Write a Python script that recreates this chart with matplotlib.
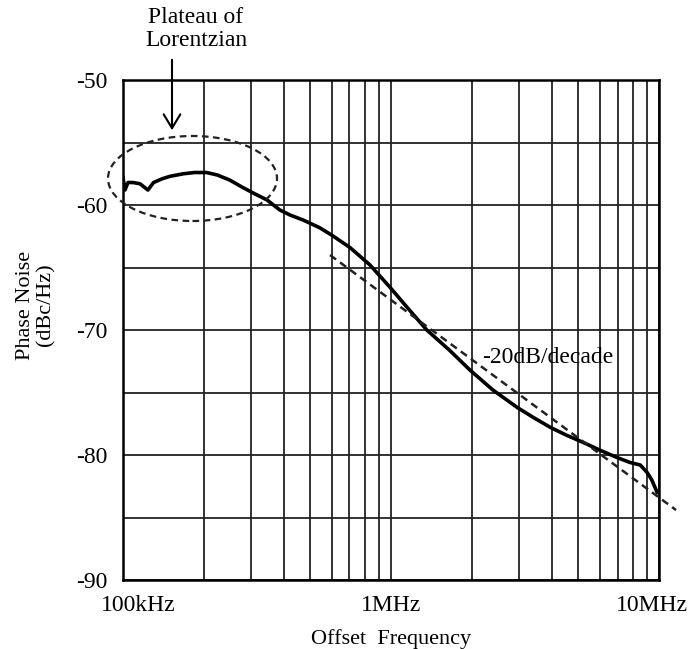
import matplotlib
matplotlib.use("Agg")
import matplotlib.pyplot as plt
import matplotlib.transforms as mtrans
from matplotlib.patches import Ellipse, FancyArrowPatch
from matplotlib.ticker import FixedLocator, LogLocator, NullFormatter

plt.rcParams["font.family"] = ["Liberation Serif", "DejaVu Serif"]
plt.rcParams["axes.unicode_minus"] = False

freq_hz = [1.0e5, 1.017e5, 1.044e5, 1.09e5, 1.157e5, 1.239e5, 1.30e5, 1.40e5, 1.50e5,
           1.68e5, 1.85e5, 2.05e5, 2.25e5, 2.50e5, 2.80e5, 3.10e5, 3.45e5, 3.85e5,
           4.20e5, 4.70e5, 5.40e5, 6.00e5, 7.03e5, 8.35e5, 9.93e5, 1.15e6, 1.36e6,
           1.65e6, 1.97e6, 2.40e6, 2.96e6, 3.40e6, 3.94e6, 4.50e6, 5.22e6, 6.00e6,
           6.97e6, 7.80e6, 8.51e6, 9.03e6, 9.40e6, 9.84e6]
pn_dbc = [-57.8, -58.8, -58.2, -58.2, -58.3, -58.8, -58.2, -57.9, -57.7,
          -57.5, -57.4, -57.4, -57.6, -58.0, -58.6, -59.1, -59.6, -60.4,
          -60.8, -61.2, -61.8, -62.4, -63.4, -64.8, -66.6, -68.2, -70.0,
          -71.6, -73.2, -74.8, -76.2, -77.0, -77.8, -78.4, -79.0, -79.6,
          -80.2, -80.6, -80.8, -81.4, -82.0, -83.0]

# -20 dB/decade guide
guide_hz = [5.92e5, 1.157e7]
guide_db = [-64.0, -84.4]

fig = plt.figure(figsize=(6.89, 6.49), dpi=100)
ax = fig.add_axes([0.1785, 0.1063, 0.7780, 0.7704])

ax.set_xscale("log")
ax.set_xlim(1e5, 1e7)
ax.set_ylim(-90, -50)
ax.xaxis.set_major_locator(FixedLocator([1e5, 1e6, 1e7]))
ax.xaxis.set_minor_locator(LogLocator(base=10, subs=range(2, 10)))
ax.xaxis.set_minor_formatter(NullFormatter())
ax.set_xticklabels(["100kHz", "1MHz", "10MHz"])
ax.set_yticks([-90, -80, -70, -60, -50])
ax.yaxis.set_minor_locator(FixedLocator([-85, -75, -65, -55]))
ax.grid(True, which="both", color="#222222", lw=1.3)
ax.tick_params(which="both", length=0, labelsize=17)
ax.tick_params(axis="x", pad=11)
ax.tick_params(axis="y", pad=11)
for s in ax.spines.values():
    s.set_linewidth(1.8)
    s.set_color("black")

# shift the end labels like the original layout
shifts = {0: 15, 2: -7}
for i, lbl in enumerate(ax.get_xticklabels()):
    if i in shifts:
        lbl.set_transform(lbl.get_transform() +
                          mtrans.ScaledTranslation(shifts[i] / 100, 0, fig.dpi_scale_trans))

ax.plot(freq_hz, pn_dbc, color="black", lw=2.6, zorder=3)
ax.plot(guide_hz, guide_db, color="#222222", lw=1.8, ls=(0, (3, 2)), clip_on=False, zorder=3)

ax.set_xlabel("Offset  Frequency", fontsize=16, labelpad=9)
ax.set_ylabel("Phase Noise\n(dBc/Hz)", fontsize=16, linespacing=1.1)
ax.yaxis.set_label_coords(-0.125, 0.55)

ax.text(2.19e6, -72.2, "-20dB/decade", fontsize=17, va="center", ha="left")

ell = Ellipse((192.5 / 689, 1 - 178.5 / 649), 169 / 689, 85 / 649,
              transform=fig.transFigure, fill=False, ls=(0, (3, 2)), lw=1.6,
              color="#222222", clip_on=False, zorder=4)
fig.add_artist(ell)

fig.text(196 / 689, 1 - 29 / 649, "Plateau of\nLorentzian", fontsize=17,
         ha="center", va="center", linespacing=1.15)
fig.add_artist(FancyArrowPatch(
    (172 / 689, 1 - 57 / 649), (172 / 689, 1 - 133 / 649),
    transform=fig.transFigure, arrowstyle="->,head_width=0.3,head_length=0.5",
    lw=1.5, color="black", mutation_scale=20))

fig.savefig("out.png", dpi=100)
